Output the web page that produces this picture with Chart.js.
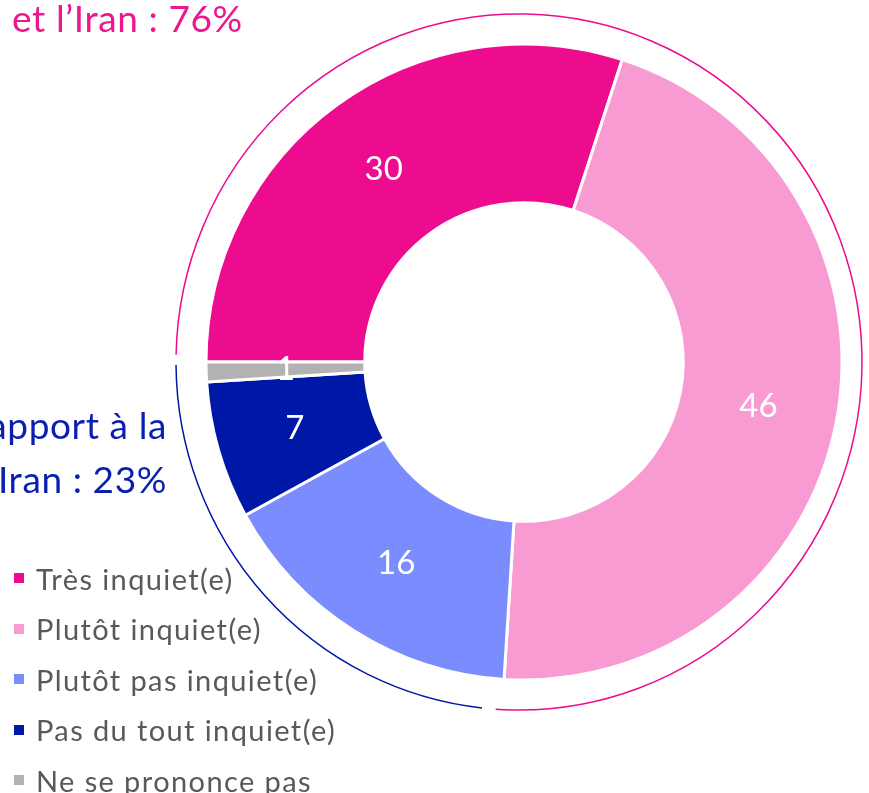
<!DOCTYPE html>
<html>
<head>
<meta charset="utf-8">
<script src="https://cdn.jsdelivr.net/npm/chart.js@4"></script>
<style>
  html, body { margin:0; padding:0; background:#fff; }
  body { width:869px; height:793px; overflow:hidden; position:relative; font-family: Lato, "Open Sans", sans-serif; }
  #c { position:absolute; left:0; top:0; }
  .title { position:absolute; white-space:nowrap; font-weight:400; font-style:normal; letter-spacing:0.6px; }
  #tPink { left:12px; top:-6px; color:#EE168E; font-size:37px; line-height:48px; }
  #tBlue { right:702px; top:398px; color:#0A1FB0; font-size:37px; text-align:right; line-height:54px; }
  #legend { position:absolute; left:14px; top:553px; color:#595959; font-size:29px; letter-spacing:1.4px; font-style:normal; font-weight:400; }
  .item { height:50.5px; display:flex; align-items:center; white-space:nowrap; }
  .sw { width:10px; height:10px; margin-right:12px; flex:none; }
</style>
</head>
<body>
<canvas id="c" width="869" height="793"></canvas>
<div id="tPink" class="title"></div>
<div id="tBlue" class="title"></div>
<div id="legend"></div>
<script>
const categories = ['Très inquiet(e)', 'Plutôt inquiet(e)', 'Plutôt pas inquiet(e)', 'Pas du tout inquiet(e)', 'Ne se prononce pas'];
const values = [30, 46, 16, 7, 1];
const colors = ['#EE0C8E', '#F99BD3', '#7B8CFF', '#0018A8', '#B2B2B2'];
const groupTitles = [
  ['et l’Iran : 76%'],
  ['Pas inquiet(e) par rapport à la', 'situation entre Israël et l’Iran : 23%']
];
const groupTotals = [76, 23];
const groupColors = ['#EE0C8E', '#0018A8'];

document.getElementById('tPink').innerHTML = groupTitles[0].join('<br>');
document.getElementById('tBlue').innerHTML = groupTitles[1].join('<br>');
const leg = document.getElementById('legend');
categories.forEach((c, i) => {
  const d = document.createElement('div');
  d.className = 'item';
  d.innerHTML = '<span class="sw" style="background:' + colors[i] + '"></span><span>' + c + '</span>';
  leg.appendChild(d);
});

const deg = Math.PI / 180;
const bracketPlugin = {
  id: 'brackets',
  afterDatasetsDraw(chart) {
    const ctx = chart.ctx;
    const arcs = chart.getDatasetMeta(0).data;
    const cx = arcs[0].x - 5, cy = arcs[0].y;
    const rx = arcs[0].outerRadius + 25, ry = arcs[0].outerRadius + 30;
    ctx.save();
    ctx.lineWidth = 1.5;
    ctx.strokeStyle = groupColors[0];
    ctx.beginPath();
    ctx.ellipse(cx, cy, rx, ry, 0, arcs[0].startAngle + 1.2 * deg, arcs[1].endAngle + 0.3 * deg);
    ctx.stroke();
    ctx.strokeStyle = groupColors[1];
    ctx.beginPath();
    ctx.ellipse(cx, cy, rx, ry, 0, arcs[2].startAngle + 2.6 * deg, arcs[4].endAngle - 0.5 * deg);
    ctx.stroke();
    // value labels
    ctx.fillStyle = '#ffffff';
    ctx.font = '400 33px Lato, "Open Sans", sans-serif';
    ctx.textAlign = 'center';
    ctx.textBaseline = 'middle';
    arcs.forEach((a, i) => {
      const p = a.tooltipPosition();
      ctx.fillText(String(values[i]), p.x, p.y);
    });
    ctx.restore();
  }
};

new Chart(document.getElementById('c'), {
  type: 'doughnut',
  data: {
    labels: categories,
    datasets: [{
      data: values,
      backgroundColor: colors,
      borderColor: '#ffffff',
      borderWidth: 3,
      hoverOffset: 0
    }]
  },
  options: {
    responsive: false,
    animation: false,
    events: [],
    rotation: -90,
    radius: 318,
    cutout: 158,
    layout: { padding: { left: 207, top: 45, right: 28, bottom: 114 } },
    plugins: { legend: { display: false }, tooltip: { enabled: false } }
  },
  plugins: [bracketPlugin]
});
</script>
</body>
</html>
